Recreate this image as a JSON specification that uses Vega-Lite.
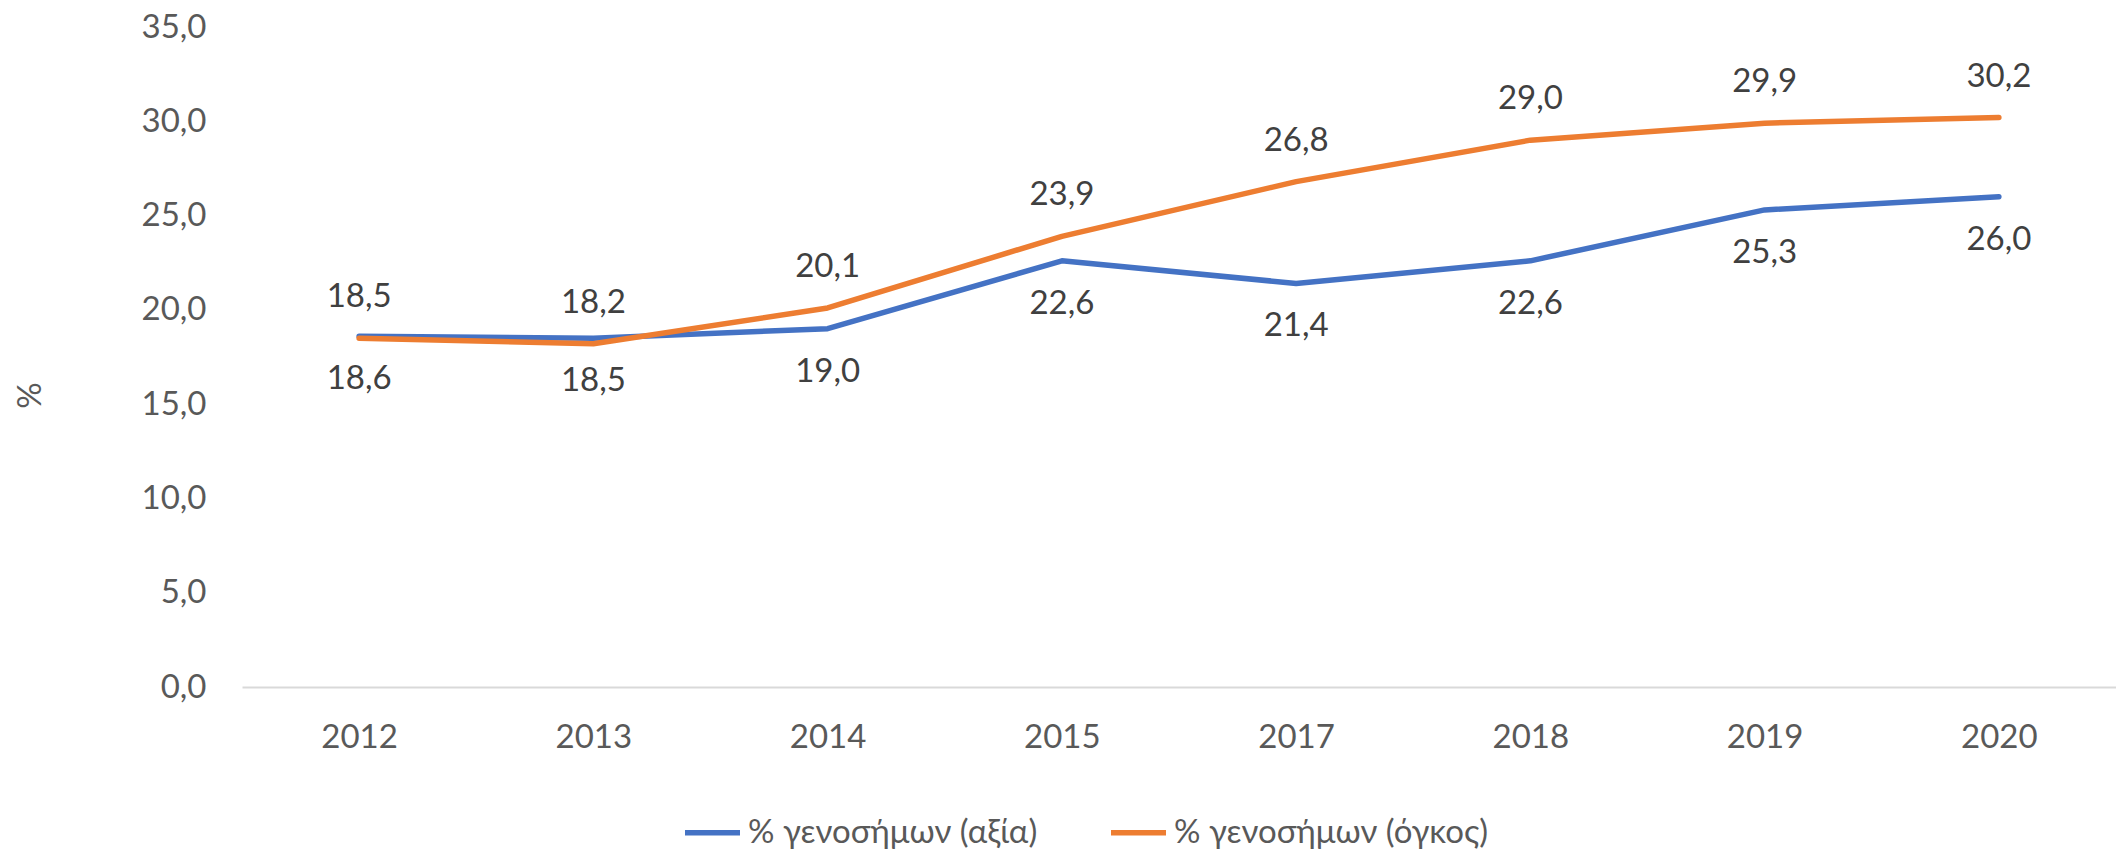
{
  "$schema": "https://vega.github.io/schema/vega-lite/v6.json",
  "width": 1874,
  "height": 660,
  "autosize": {"type": "none"},
  "padding": {"left": 242, "top": 27, "right": 0, "bottom": 168},
  "background": "white",
  "config": {
    "view": {"stroke": null},
    "font": "Lato",
    "locale": {"number": {"decimal": ",", "thousands": ".", "grouping": [3], "currency": ["", " €"]}}
  },
  "data": {
    "values": [
      {"year": "2012", "series": "% γενοσήμων (αξία)", "value": 18.6},
      {"year": "2013", "series": "% γενοσήμων (αξία)", "value": 18.5},
      {"year": "2014", "series": "% γενοσήμων (αξία)", "value": 19.0},
      {"year": "2015", "series": "% γενοσήμων (αξία)", "value": 22.6},
      {"year": "2017", "series": "% γενοσήμων (αξία)", "value": 21.4},
      {"year": "2018", "series": "% γενοσήμων (αξία)", "value": 22.6},
      {"year": "2019", "series": "% γενοσήμων (αξία)", "value": 25.3},
      {"year": "2020", "series": "% γενοσήμων (αξία)", "value": 26.0},
      {"year": "2012", "series": "% γενοσήμων (όγκος)", "value": 18.5},
      {"year": "2013", "series": "% γενοσήμων (όγκος)", "value": 18.2},
      {"year": "2014", "series": "% γενοσήμων (όγκος)", "value": 20.1},
      {"year": "2015", "series": "% γενοσήμων (όγκος)", "value": 23.9},
      {"year": "2017", "series": "% γενοσήμων (όγκος)", "value": 26.8},
      {"year": "2018", "series": "% γενοσήμων (όγκος)", "value": 29.0},
      {"year": "2019", "series": "% γενοσήμων (όγκος)", "value": 29.9},
      {"year": "2020", "series": "% γενοσήμων (όγκος)", "value": 30.2}
    ]
  },
  "encoding": {
    "x": {
      "field": "year", "type": "ordinal",
      "scale": {"type": "point", "padding": 0.5},
      "axis": {
        "title": null, "labelAngle": 0, "ticks": false,
        "domainColor": "#D9D9D9", "domainWidth": 2,
        "labelFont": "Lato", "labelFontSize": 33, "labelColor": "#595959",
        "labelBaseline": "middle", "labelPadding": 50, "grid": false
      }
    },
    "y": {
      "field": "value", "type": "quantitative",
      "scale": {"domain": [0, 35], "nice": false},
      "axis": {
        "title": "%", "values": [0, 5, 10, 15, 20, 25, 30, 35], "format": ".1f",
        "domain": false, "ticks": false, "grid": false,
        "labelFont": "Lato", "labelFontSize": 33, "labelColor": "#595959", "labelPadding": 36,
        "titleFont": "Lato", "titleFontSize": 33, "titleColor": "#595959", "titleFontWeight": "normal",
        "titleX": -212, "titleY": 368, "titleAngle": -90, "titleAlign": "center", "titleBaseline": "middle"
      }
    }
  },
  "layer": [
    {
      "mark": {"type": "line", "strokeWidth": 5.5, "strokeCap": "round", "strokeJoin": "round"},
      "encoding": {
        "color": {
          "field": "series", "type": "nominal",
          "scale": {"domain": ["% γενοσήμων (αξία)", "% γενοσήμων (όγκος)"], "range": ["#4472C4", "#ED7D31"]},
          "legend": {
            "orient": "none", "legendX": 440, "legendY": 775, "direction": "horizontal",
            "title": null, "symbolType": "stroke", "symbolSize": 3025, "symbolStrokeWidth": 5.5,
            "labelFont": "Lato", "labelFontSize": 33, "labelColor": "#595959",
            "columnPadding": 62, "labelOffset": 5, "padding": 0, "labelLimit": 0
          }
        }
      }
    },
    {
      "transform": [{"filter": "datum.series === '% γενοσήμων (αξία)'"}],
      "mark": {"type": "text", "dy": 43, "fontSize": 33, "font": "Lato", "color": "#404040", "baseline": "middle"},
      "encoding": {"text": {"field": "value", "type": "quantitative", "format": ".1f"}}
    },
    {
      "transform": [{"filter": "datum.series === '% γενοσήμων (όγκος)'"}],
      "mark": {"type": "text", "dy": -41, "fontSize": 33, "font": "Lato", "color": "#404040", "baseline": "middle"},
      "encoding": {"text": {"field": "value", "type": "quantitative", "format": ".1f"}}
    }
  ]
}
